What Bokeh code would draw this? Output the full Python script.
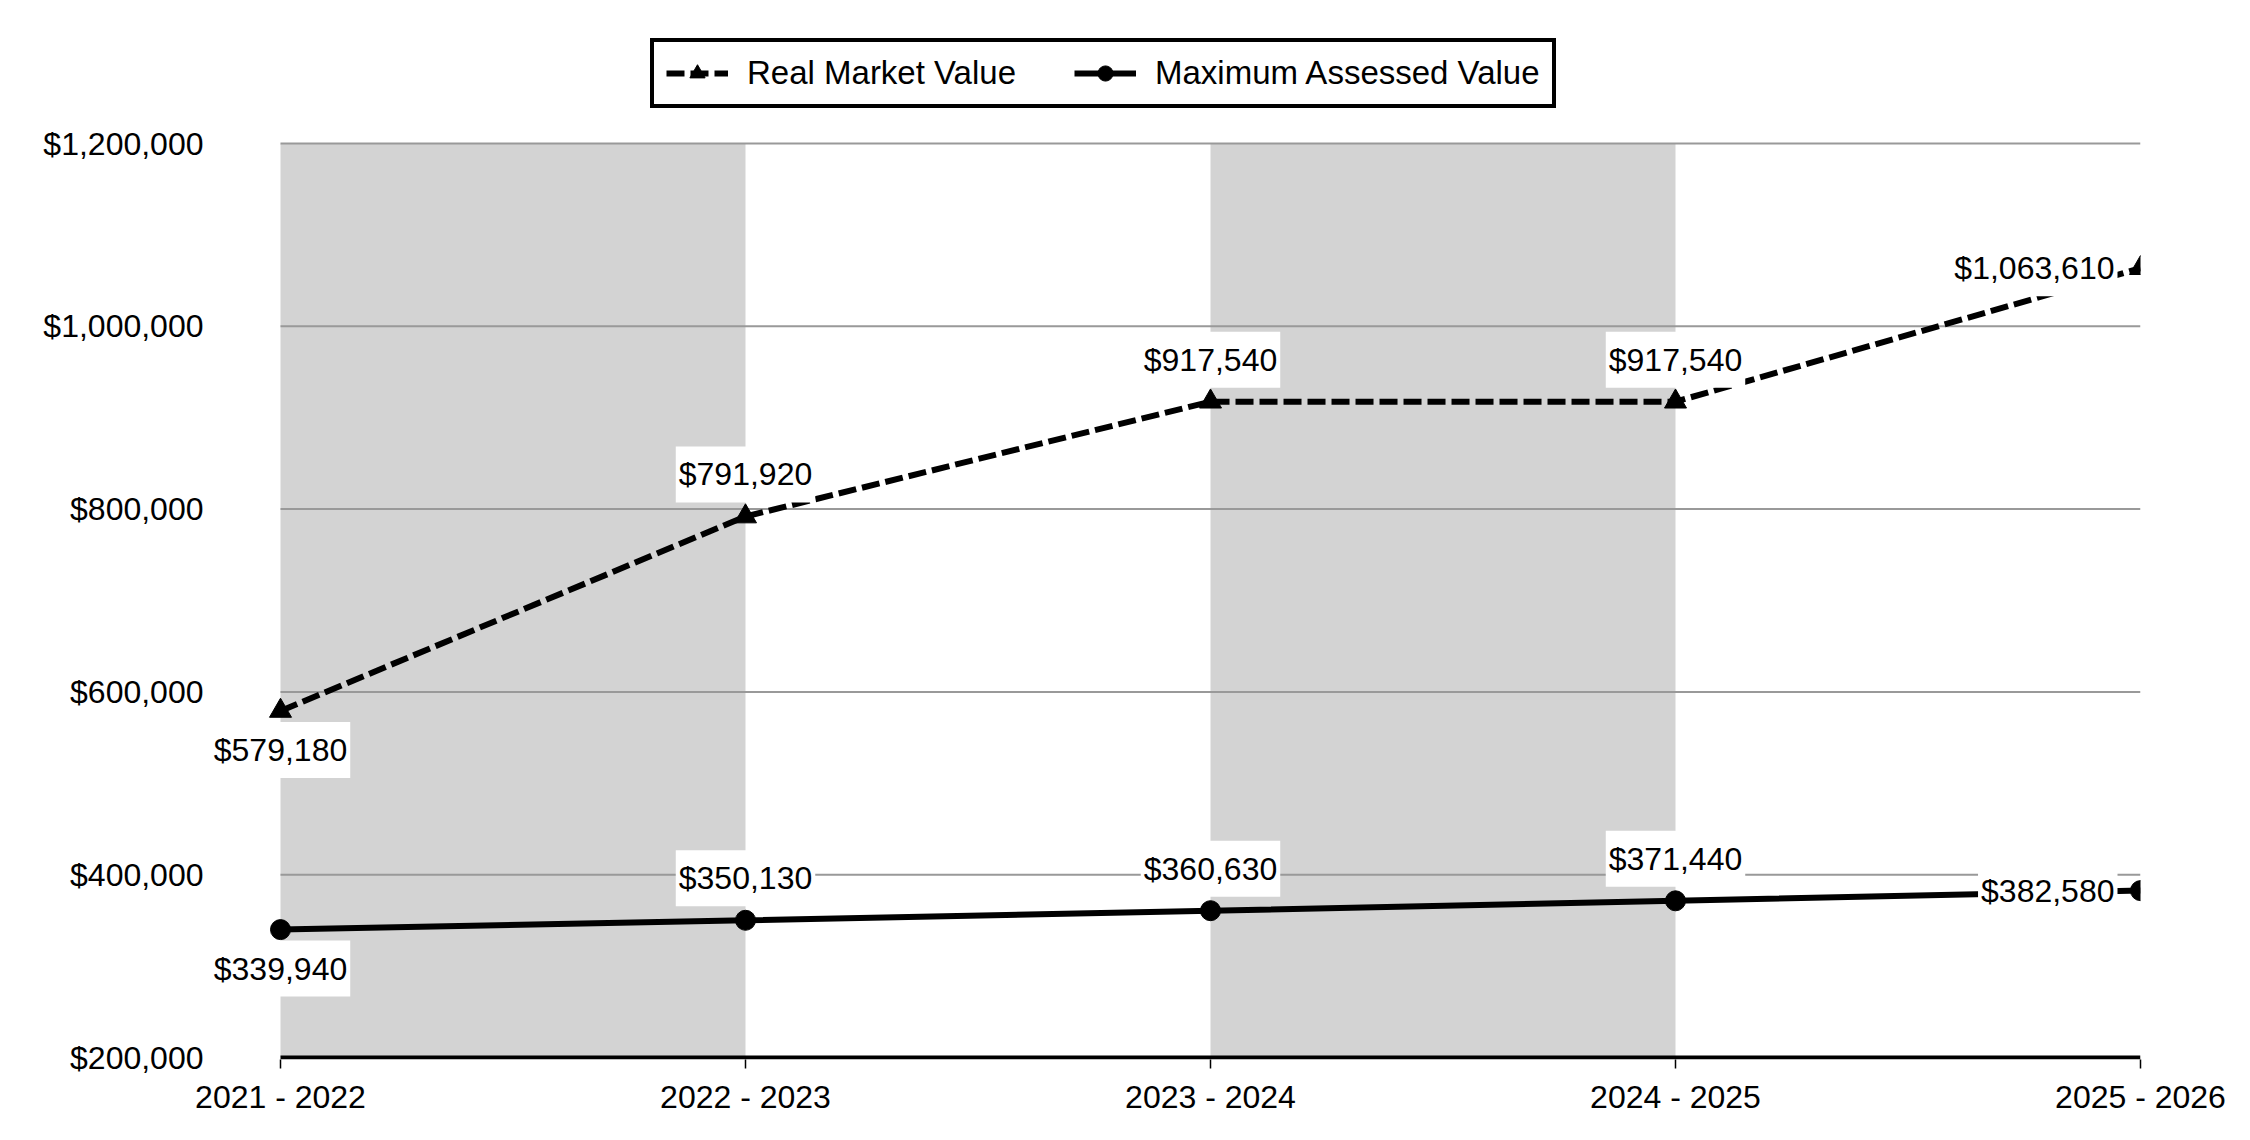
from bokeh.plotting import figure
from bokeh.models import (ColumnDataSource, Range1d, FixedTicker, NumeralTickFormatter,
                          Legend, LegendItem)
from bokeh.core.properties import value
from bokeh.embed import file_html
from bokeh.resources import INLINE

# ---- data ----
categories = ["2021 - 2022", "2022 - 2023", "2023 - 2024", "2024 - 2025", "2025 - 2026"]
real_market = [579180, 791920, 917540, 917540, 1063610]
max_assessed = [339940, 350130, 360630, 371440, 382580]
y_ticks = [200000, 400000, 600000, 800000, 1000000, 1200000]
shaded_band_start = [0, 2]          # category index where a grey band starts
rmv_label_side = ["below", "above", "above", "above", "left"]
mav_label_side = ["below", "above", "above", "above", "left"]

FONT = "Liberation Sans"
FS = "32px"
LEG_FS = "33px"

xs = list(range(len(categories)))

# layout (pixels): data area 280..2140 x 143..1057; frame slightly larger so that
# labels and legend sitting outside the data area are not clipped
PX_X = 1860 / (len(categories) - 1)
PX_Y = 914 / (y_ticks[-1] - y_ticks[0])
x_start = xs[0] - (280 - 204) / PX_X
y_end = y_ticks[-1] + (143 - 18) / PX_Y
y_start = y_ticks[0] - 2 / PX_Y

p = figure(frame_width=1936, frame_height=1041,
           min_border_left=204, min_border_right=94,
           min_border_top=18, min_border_bottom=65,
           x_range=Range1d(x_start, xs[-1]),
           y_range=Range1d(y_start, y_end),
           output_backend="svg", toolbar_location=None,
           background_fill_color="white", border_fill_color="white")
p.outline_line_color = None
p.xgrid.visible = False
p.ygrid.visible = False

# grey bands
p.quad(left=shaded_band_start, right=[s + 1 for s in shaded_band_start],
       bottom=y_ticks[0], top=y_ticks[-1],
       fill_color="#d3d3d3", line_color=None)

# gridlines above bands
p.segment(x0=xs[0], x1=xs[-1], y0=y_ticks[1:], y1=y_ticks[1:],
          line_color="#999999", line_width=2)
# x axis baseline
p.segment(x0=[xs[0]], x1=[xs[-1]], y0=[y_ticks[0]], y1=[y_ticks[0]],
          line_color="black", line_width=4)

# series
rmv_line = p.line(xs, real_market, line_color="black", line_width=6, line_dash="18 6")
rmv_pts = p.scatter(xs, real_market, marker="triangle", size=22,
                    fill_color="black", line_color="black")
mav_line = p.line(xs, max_assessed, line_color="black", line_width=6)
mav_pts = p.scatter(xs, max_assessed, marker="circle", size=20,
                    fill_color="black", line_color="black")

side_map = {"above": (0, -42, "center"), "below": (0, 39, "center"),
            "left": (-23, 0, "right")}

def add_labels(vals, sides):
    src = ColumnDataSource(dict(
        x=xs, y=vals, t=[f"${v:,}" for v in vals],
        xo=[side_map[s][0] for s in sides],
        yo=[side_map[s][1] for s in sides],
        al=[side_map[s][2] for s in sides]))
    p.text(x="x", y="y", text="t", x_offset="xo", y_offset="yo",
           text_align="al", text_baseline="middle", source=src,
           text_font=value(FONT), text_font_size=FS, text_color="black",
           background_fill_color="white", padding=[3, 10])

add_labels(real_market, rmv_label_side)
add_labels(max_assessed, mav_label_side)

# axes
xa = p.xaxis[0]
xa.ticker = FixedTicker(ticks=xs)
xa.major_label_overrides = {i: c for i, c in enumerate(categories)}
xa.axis_line_color = None
xa.major_tick_line_color = "black"
xa.major_tick_line_width = 1.5
xa.major_tick_in = 0
xa.major_tick_out = 9
xa.minor_tick_line_color = None
xa.major_label_standoff = 10
xa.major_label_text_font = FONT
xa.major_label_text_font_size = FS
xa.major_label_text_color = "black"

ya = p.yaxis[0]
ya.ticker = FixedTicker(ticks=y_ticks)
ya.formatter = NumeralTickFormatter(format="$0,0")
ya.axis_line_color = None
ya.major_tick_line_color = None
ya.minor_tick_line_color = None
ya.major_tick_in = 0
ya.major_tick_out = 0
ya.major_label_standoff = 1
ya.major_label_text_font = FONT
ya.major_label_text_font_size = FS
ya.major_label_text_color = "black"

legend = Legend(items=[
    LegendItem(label="Real Market Value", renderers=[rmv_line, rmv_pts]),
    LegendItem(label="Maximum Assessed Value", renderers=[mav_line, mav_pts]),
], orientation="horizontal", location=(650 - 204, 1059 - 108), margin=0,
    padding=12, spacing=58, glyph_width=62, glyph_height=38, label_height=38,
    label_standoff=19, border_line_color="black", border_line_width=4,
    border_line_alpha=1.0,
    label_text_font=FONT, label_text_font_size=LEG_FS, label_text_color="black",
    background_fill_color="white", background_fill_alpha=1.0)
p.add_layout(legend)

open("out.html", "w").write(file_html(p, INLINE))
